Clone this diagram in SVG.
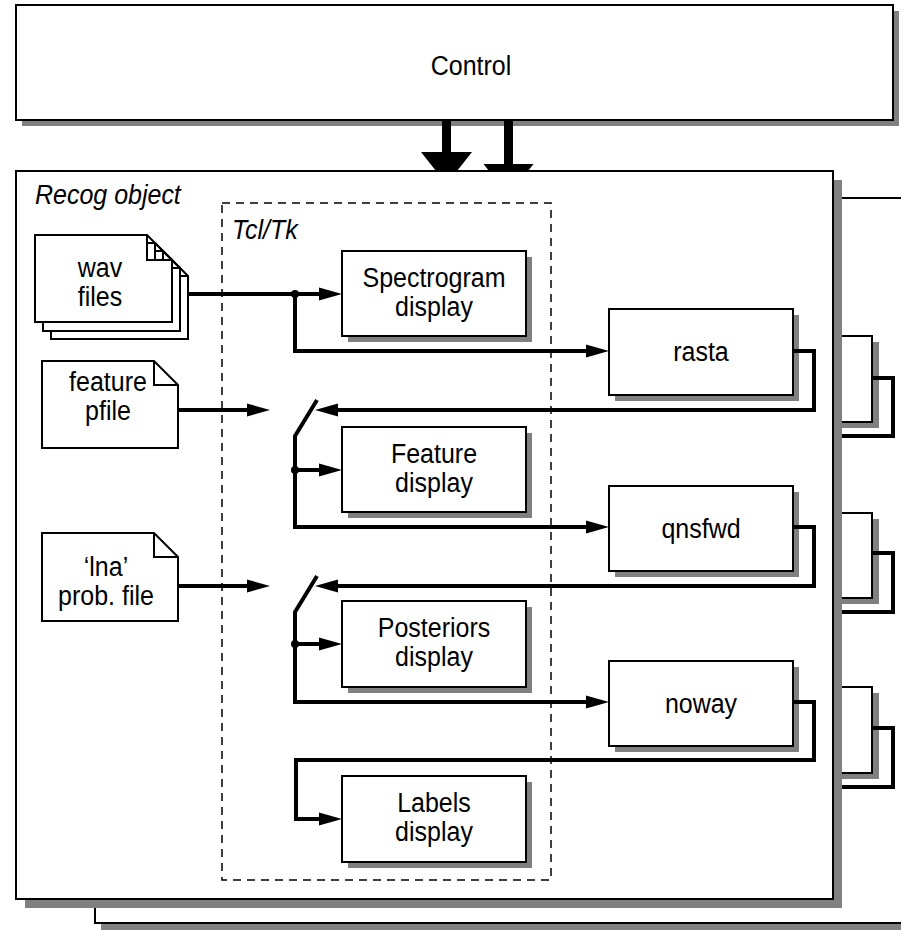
<svg xmlns="http://www.w3.org/2000/svg" width="901" height="930" viewBox="0 0 901 930">
<style>
.box{fill:#fff;stroke:#000;stroke-width:2}
.sh{fill:#808080}
.t{font-family:"Liberation Sans",Arial,sans-serif;font-size:25px;fill:#000;text-anchor:middle;transform-box:fill-box;transform-origin:center;transform:scaleY(1.08)}
.it{font-style:italic;text-anchor:start}
.c{fill:none;stroke:#000;stroke-width:4;stroke-linejoin:miter}
.dash{fill:none;stroke:#000;stroke-width:1.5;stroke-dasharray:8 6}
.doc{fill:#fff;stroke:#000;stroke-width:2;stroke-linejoin:miter}
</style>
<defs>
<marker id="ah" viewBox="0 -7 23 14" refX="0" refY="0" markerWidth="23" markerHeight="14" markerUnits="userSpaceOnUse" orient="auto"><path d="M0,-6.5 L23,0 L0,6.5 z" fill="#000"/></marker>
</defs>
<rect width="901" height="930" fill="#fff"/>

<g id="back-recog">
<rect class="sh" x="101" y="204" width="820" height="726"/>
<rect class="box" x="95" y="198" width="820" height="725"/>
</g>
<g id="rasta-back"><rect class="sh" x="695" y="342" width="184" height="86"/><rect class="box" x="688" y="336" width="184" height="86"/></g>
<g id="qnsfwd-back"><rect class="sh" x="695" y="519" width="184" height="85"/><rect class="box" x="688" y="513" width="184" height="85"/></g>
<g id="noway-back"><rect class="sh" x="695" y="693" width="184" height="86"/><rect class="box" x="688" y="687" width="184" height="86"/></g>

<g id="control">
<rect class="sh" x="22" y="11" width="877" height="115"/>
<rect class="box" x="16" y="5" width="877" height="115"/>
<text class="t" x="471" y="74">Control</text>
</g>

<g id="recog">
<rect class="sh" x="25" y="180" width="817" height="728"/>
<rect class="box" x="16" y="171" width="817" height="728"/>
<text class="t it" x="35" y="203">Recog object</text>
</g>

<g id="tcltk">
<rect class="dash" x="222" y="203" width="329" height="677"/>
<text class="t it" x="232" y="238">Tcl/Tk</text>
</g>

<g id="spectrogram"><rect class="sh" x="348" y="257" width="184" height="85"/><rect class="box" x="342" y="251" width="184" height="85"/>
<text class="t" x="434" y="286">Spectrogram</text><text class="t" x="434" y="315">display</text></g>
<g id="feature"><rect class="sh" x="348" y="433" width="184" height="85"/><rect class="box" x="342" y="427" width="184" height="85"/>
<text class="t" x="434" y="462">Feature</text><text class="t" x="434" y="491">display</text></g>
<g id="posteriors"><rect class="sh" x="348" y="607" width="184" height="86"/><rect class="box" x="342" y="601" width="184" height="86"/>
<text class="t" x="434" y="636.5">Posteriors</text><text class="t" x="434" y="665.5">display</text></g>
<g id="labels"><rect class="sh" x="348" y="782" width="184" height="86"/><rect class="box" x="342" y="776" width="184" height="86"/>
<text class="t" x="434" y="811.5">Labels</text><text class="t" x="434" y="840.5">display</text></g>

<g id="rasta"><rect class="sh" x="615" y="315" width="184" height="86"/><rect class="box" x="609" y="309" width="184" height="86"/>
<text class="t" x="701" y="360">rasta</text></g>
<g id="qnsfwd"><rect class="sh" x="615" y="492" width="184" height="85"/><rect class="box" x="609" y="486" width="184" height="85"/>
<text class="t" x="701" y="537">qnsfwd</text></g>
<g id="noway"><rect class="sh" x="615" y="667" width="184" height="85"/><rect class="box" x="609" y="661" width="184" height="85"/>
<text class="t" x="701" y="712">noway</text></g>

<g id="wav-files">
<path class="doc" d="M51,251 H163 L188,276 V339 H51 Z M163,251 V276 H188"/>
<path class="doc" d="M43,243 H155 L180,268 V331 H43 Z M155,243 V268 H180"/>
<path class="doc" d="M35,235 H147 L172,260 V322 H35 Z M147,235 V260 H172"/>
<text class="t" x="100" y="276">wav</text><text class="t" x="100" y="305">files</text>
</g>
<g id="feature-pfile">
<path class="doc" d="M42,361 H154 L178,385 V448 H42 Z M154,361 V385 H178"/>
<text class="t" x="108" y="390.5">feature</text><text class="t" x="108" y="419.5">pfile</text>
</g>
<g id="lna-file">
<path class="doc" d="M42,533 H154 L178,557 V621 H42 Z M154,533 V557 H178"/>
<text class="t" x="106" y="575.5">‘lna’</text><text class="t" x="106" y="604.5">prob. file</text>
</g>

<g id="connectors">
<path d="M442,121 H451 V152 H472 L457,171 H436 L421,152 H442 Z" fill="#000"/>
<path d="M504,121 H513 V164 H533.5 L528,171 H489 L483.5,164 H504 Z" fill="#000"/>
<path class="c" d="M872,378 H893 V436 H842"/>
<path class="c" d="M872,553 H893 V612 H842"/>
<path class="c" d="M872,728 H893 V787 H842"/>
<path class="c" d="M188,294 H319" marker-end="url(#ah)"/>
<path class="c" d="M295,294 V351 H586" marker-end="url(#ah)"/>
<path class="c" d="M793,351 H814 V410 H338" marker-end="url(#ah)"/>
<path class="c" d="M178,410 H247" marker-end="url(#ah)"/>
<path class="c" d="M317,400 L295,436 V527 H586" marker-end="url(#ah)"/>
<path class="c" d="M295,470 H319" marker-end="url(#ah)"/>
<path class="c" d="M793,527 H814 V586 H338" marker-end="url(#ah)"/>
<path class="c" d="M178,586 H247" marker-end="url(#ah)"/>
<path class="c" d="M317,576 L295,612 V702 H586" marker-end="url(#ah)"/>
<path class="c" d="M295,644 H319" marker-end="url(#ah)"/>
<path class="c" d="M793,702 H814 V760 H296 V819 H319" marker-end="url(#ah)"/>
<circle cx="295" cy="294" r="4"/>
<circle cx="295" cy="470" r="4"/>
<circle cx="295" cy="644" r="4"/>
</g>
</svg>
